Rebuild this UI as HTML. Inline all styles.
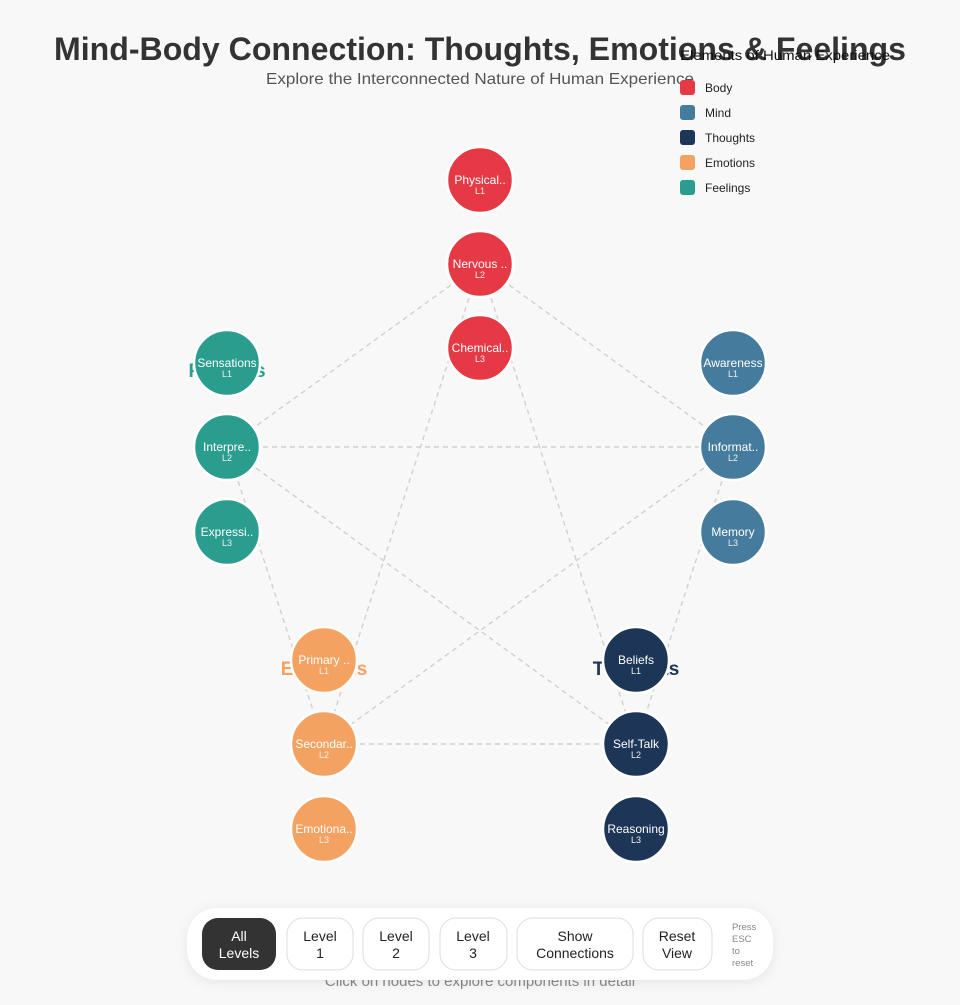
<!DOCTYPE html>
<html><head><meta charset="utf-8"><style>
html,body{margin:0;padding:0;background:#f8f8f8;}
body{width:960px;height:1000px;overflow:hidden;font-family:"Liberation Sans",sans-serif;}
</style></head><body>
<svg width="960" height="1000" viewBox="0 0 960 1000" xmlns="http://www.w3.org/2000/svg" font-family="Liberation Sans, sans-serif">
<rect width="960" height="1000" fill="#f8f8f8"/>
<text x="480" y="60" text-anchor="middle" font-size="32" font-weight="bold" fill="#333" textLength="852" lengthAdjust="spacingAndGlyphs">Mind-Body Connection: Thoughts, Emotions &amp; Feelings</text>
<text x="480" y="84" text-anchor="middle" font-size="16" fill="#555" textLength="428" lengthAdjust="spacingAndGlyphs">Explore the Interconnected Nature of Human Experience</text>
<!-- legend -->
<text x="680" y="60" font-size="14" fill="#111" textLength="210" lengthAdjust="spacingAndGlyphs">Elements of Human Experience</text>
<g font-size="12" fill="#222">
<rect x="680" y="80" width="15" height="15" rx="3" fill="#e63946"/><text x="705" y="92">Body</text>
<rect x="680" y="105" width="15" height="15" rx="3" fill="#457b9d"/><text x="705" y="117">Mind</text>
<rect x="680" y="130" width="15" height="15" rx="3" fill="#1d3557"/><text x="705" y="142">Thoughts</text>
<rect x="680" y="155" width="15" height="15" rx="3" fill="#f4a261"/><text x="705" y="167">Emotions</text>
<rect x="680" y="180" width="15" height="15" rx="3" fill="#2a9d8f"/><text x="705" y="192">Feelings</text>
</g>
<!-- category labels -->
<g font-size="19" font-weight="bold" text-anchor="middle">
<text x="227" y="377" fill="#2a9d8f">Feelings</text>
<text x="324" y="675" fill="#f4a261">Emotions</text>
<text x="636" y="675" fill="#1d3557">Thoughts</text>
</g>
<!-- connections -->
<g stroke="#d0d0d0" stroke-width="1.4" stroke-dasharray="5,4" fill="none">
<line x1="480" y1="264" x2="227" y2="447"/>
<line x1="480" y1="264" x2="733" y2="447"/>
<line x1="227" y1="447" x2="733" y2="447"/>
<line x1="480" y1="264" x2="324" y2="744"/>
<line x1="480" y1="264" x2="636" y2="744"/>
<line x1="227" y1="447" x2="636" y2="744"/>
<line x1="227" y1="447" x2="324" y2="744"/>
<line x1="733" y1="447" x2="324" y2="744"/>
<line x1="733" y1="447" x2="636" y2="744"/>
<line x1="324" y1="744" x2="636" y2="744"/>
</g>
<!-- nodes -->
<g stroke="#fff" stroke-width="2.5">
<circle cx="480" cy="180" r="33" fill="#e63946"/>
<circle cx="480" cy="264" r="33" fill="#e63946"/>
<circle cx="480" cy="348" r="33" fill="#e63946"/>
<circle cx="227" cy="363" r="33" fill="#2a9d8f"/>
<circle cx="227" cy="447" r="33" fill="#2a9d8f"/>
<circle cx="227" cy="532" r="33" fill="#2a9d8f"/>
<circle cx="733" cy="363" r="33" fill="#457b9d"/>
<circle cx="733" cy="447" r="33" fill="#457b9d"/>
<circle cx="733" cy="532" r="33" fill="#457b9d"/>
<circle cx="324" cy="660" r="33" fill="#f4a261"/>
<circle cx="324" cy="744" r="33" fill="#f4a261"/>
<circle cx="324" cy="829" r="33" fill="#f4a261"/>
<circle cx="636" cy="660" r="33" fill="#1d3557"/>
<circle cx="636" cy="744" r="33" fill="#1d3557"/>
<circle cx="636" cy="829" r="33" fill="#1d3557"/>
</g>
<g fill="#fff" text-anchor="middle">
<g font-size="12">
<text x="480" y="184">Physical..</text><text x="480" y="268">Nervous ..</text><text x="480" y="352">Chemical..</text>
<text x="227" y="367">Sensations</text><text x="227" y="451">Interpre..</text><text x="227" y="536">Expressi..</text>
<text x="733" y="367">Awareness</text><text x="733" y="451">Informat..</text><text x="733" y="536">Memory</text>
<text x="324" y="664">Primary ..</text><text x="324" y="748">Secondar..</text><text x="324" y="833">Emotiona..</text>
<text x="636" y="664">Beliefs</text><text x="636" y="748">Self-Talk</text><text x="636" y="833">Reasoning</text>
</g>
<g font-size="9" fill="#f0f0f0">
<text x="480" y="194">L1</text><text x="480" y="278">L2</text><text x="480" y="362">L3</text>
<text x="227" y="377">L1</text><text x="227" y="461">L2</text><text x="227" y="546">L3</text>
<text x="733" y="377">L1</text><text x="733" y="461">L2</text><text x="733" y="546">L3</text>
<text x="324" y="674">L1</text><text x="324" y="758">L2</text><text x="324" y="843">L3</text>
<text x="636" y="674">L1</text><text x="636" y="758">L2</text><text x="636" y="843">L3</text>
</g>
</g>
<!-- footer -->
<text x="480" y="986" text-anchor="middle" font-size="15" fill="#888">Click on nodes to explore components in detail</text>
<rect x="187" y="908" width="586" height="72" rx="30" fill="#fff" style="filter:drop-shadow(0 2px 6px rgba(0,0,0,0.08))"/>
<rect x="202" y="918" width="74" height="52" rx="16" fill="#333"/>
<g fill="#fff" stroke="#ddd" stroke-width="1">
<rect x="287" y="918" width="66" height="52" rx="16"/>
<rect x="363" y="918" width="66" height="52" rx="16"/>
<rect x="440" y="918" width="67" height="52" rx="16"/>
<rect x="517" y="918" width="116" height="52" rx="16"/>
<rect x="643" y="918" width="69" height="52" rx="16"/>
</g>
<g font-size="14" text-anchor="middle" fill="#222">
<text x="239" y="941" fill="#fff">All</text><text x="239" y="958" fill="#fff">Levels</text>
<text x="320" y="941">Level</text><text x="320" y="958">1</text>
<text x="396" y="941">Level</text><text x="396" y="958">2</text>
<text x="473" y="941">Level</text><text x="473" y="958">3</text>
<text x="575" y="941">Show</text><text x="575" y="958">Connections</text>
<text x="677" y="941">Reset</text><text x="677" y="958">View</text>
</g>
<g font-size="9.5" fill="#888">
<text x="732" y="930">Press</text><text x="732" y="942">ESC</text><text x="732" y="954">to</text><text x="732" y="966">reset</text>
</g>
</svg>
</body></html>
